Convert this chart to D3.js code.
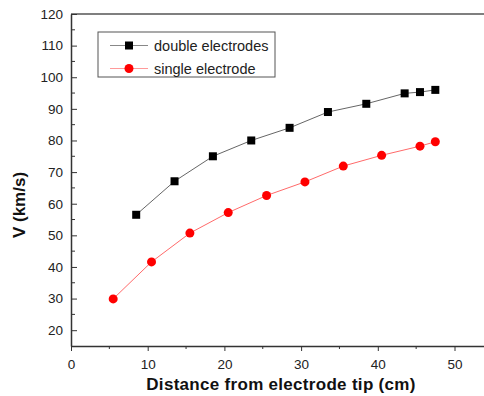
<!DOCTYPE html>
<html>
<head>
  <script src="https://d3js.org/d3.v7.min.js"></script>
  <style>
    body { margin: 0; background: #fff; }
    text { font-family: "Liberation Sans", Arial, sans-serif; }
  </style>
</head>
<body>
  <script>
    // Data
    const doubleX = [8.5, 13.5, 18.5, 23.5, 28.5, 33.5, 38.5, 43.5, 45.5, 47.5];
    const doubleV = [56.5, 67.1, 75.0, 80.0, 84.0, 89.0, 91.6, 94.9, 95.3, 96.0];
    const singleX = [5.5, 10.5, 15.5, 20.5, 25.5, 30.5, 35.5, 40.5, 45.5, 47.5];
    const singleV = [29.9, 41.6, 50.7, 57.2, 62.6, 66.9, 71.9, 75.3, 78.2, 79.6];
    const xTicks = [0, 10, 20, 30, 40, 50];
    const yTicks = [20, 30, 40, 50, 60, 70, 80, 90, 100, 110, 120];
    const seriesNames = ["double electrodes", "single electrode"];

    const W = 484, H = 396;
    const plotLeft = 71, plotTop = 14, plotBottom = 346;

    const svg = d3.select("body").append("svg")
      .attr("width", W)
      .attr("height", H);

    const x = d3.scaleLinear().domain([0, 55]).range([plotLeft, plotLeft + 55 * 7.67]);
    const y = d3.scaleLinear().domain([15, 120]).range([plotBottom, plotTop]);

    // frame (top and right)
    svg.append("line")
      .attr("x1", x(0)).attr("x2", x(55))
      .attr("y1", y(120)).attr("y2", y(120))
      .attr("stroke", "#555").attr("stroke-width", 1.5);
    svg.append("line")
      .attr("x1", x(55)).attr("x2", x(55))
      .attr("y1", y(120)).attr("y2", y(15))
      .attr("stroke", "#555").attr("stroke-width", 1.5);

    // X axis, ticks outward
    const xAxis = svg.append("g")
      .attr("transform", `translate(0,${plotBottom})`)
      .call(d3.axisBottom(x).tickValues(xTicks).tickSize(5).tickPadding(8).tickSizeOuter(0));
    xAxis.append("g").selectAll("line")
      .data([5, 15, 25, 35, 45])
      .join("line")
      .attr("x1", d => x(d)).attr("x2", d => x(d))
      .attr("y1", 0).attr("y2", 3)
      .attr("stroke", "#333");

    // Y axis, ticks inward
    const yAxis = svg.append("g")
      .attr("transform", `translate(${plotLeft},0)`)
      .call(d3.axisLeft(y).tickValues(yTicks).tickSize(-6).tickPadding(8).tickSizeOuter(0));
    yAxis.append("g").selectAll("line")
      .data(d3.range(25, 120, 10))
      .join("line")
      .attr("x1", 0).attr("x2", 4)
      .attr("y1", d => y(d)).attr("y2", d => y(d))
      .attr("stroke", "#333");

    svg.selectAll(".domain").attr("stroke", "#333").attr("stroke-width", 1.5);
    svg.selectAll(".tick line").attr("stroke", "#333");
    svg.selectAll(".tick text")
      .attr("font-size", "13.5px")
      .attr("fill", "#222")
      .style("font-family", "'Liberation Sans', Arial, sans-serif");

    // Axis titles
    svg.append("text")
      .attr("x", 281).attr("y", 390)
      .attr("text-anchor", "middle")
      .attr("font-size", "17px").attr("font-weight", "bold")
      .attr("letter-spacing", "0.3px")
      .attr("fill", "#111")
      .text("Distance from electrode tip (cm)");
    svg.append("text")
      .attr("transform", "translate(25,205) rotate(-90)")
      .attr("text-anchor", "middle")
      .attr("font-size", "17px").attr("font-weight", "bold")
      .attr("fill", "#111")
      .text("V (km/s)");

    const line = d3.line().x(d => x(d[0])).y(d => y(d[1]));
    const dbl = doubleX.map((d, i) => [d, doubleV[i]]);
    const sgl = singleX.map((d, i) => [d, singleV[i]]);

    // Lines
    svg.append("path").datum(dbl)
      .attr("fill", "none").attr("stroke", "#666").attr("stroke-width", 1)
      .attr("d", line);
    svg.append("path").datum(sgl)
      .attr("fill", "none").attr("stroke", "#ff6a6a").attr("stroke-width", 1)
      .attr("d", line);

    // Markers
    svg.selectAll(".sq").data(dbl).join("rect")
      .attr("x", d => x(d[0]) - 4).attr("y", d => y(d[1]) - 4)
      .attr("width", 8).attr("height", 8)
      .attr("fill", "#000");
    svg.selectAll(".ci").data(sgl).join("circle")
      .attr("cx", d => x(d[0])).attr("cy", d => y(d[1]))
      .attr("r", 4.5)
      .attr("fill", "#f00");

    // Legend
    const legend = svg.append("g");
    legend.append("rect")
      .attr("x", 98).attr("y", 32).attr("width", 177).attr("height", 45)
      .attr("fill", "#fff").attr("stroke", "#555").attr("stroke-width", 1);
    const rows = [45.5, 68.5];
    const lineColors = ["#888", "#ff9a9a"];
    rows.forEach((ry, i) => {
      legend.append("line")
        .attr("x1", 110).attr("x2", 148).attr("y1", ry).attr("y2", ry)
        .attr("stroke", lineColors[i]).attr("stroke-width", 1);
      if (i === 0) {
        legend.append("rect")
          .attr("x", 125).attr("y", ry - 4).attr("width", 8).attr("height", 8)
          .attr("fill", "#000");
      } else {
        legend.append("circle")
          .attr("cx", 129).attr("cy", ry).attr("r", 4.5)
          .attr("fill", "#f00");
      }
      legend.append("text")
        .attr("x", 154).attr("y", ry)
        .attr("dy", "0.35em")
        .attr("font-size", "14.5px")
        .attr("fill", "#222")
        .text(seriesNames[i]);
    });
  </script>
</body>
</html>
